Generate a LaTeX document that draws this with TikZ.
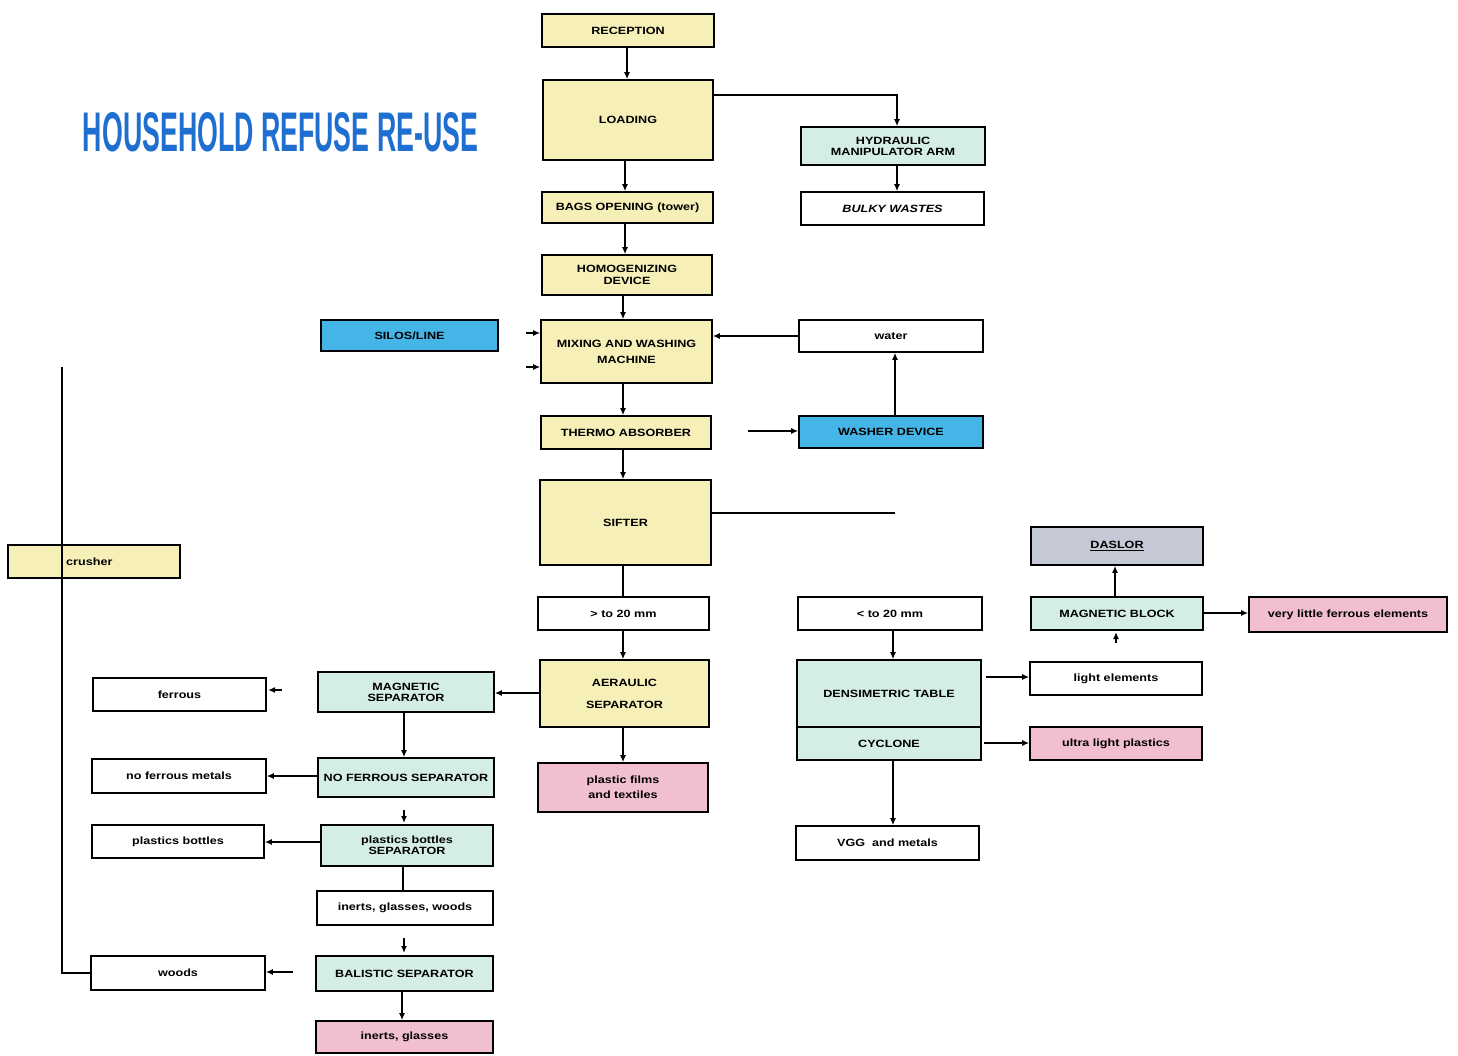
\documentclass[tikz,border=0pt]{standalone}
\usepackage{fontspec}
\usepackage{graphicx}
\setmainfont{Liberation Sans}
\newfontfamily\boxfont[FakeStretch=1.2]{Liberation Sans}
\usetikzlibrary{arrows.meta}
\definecolor{cyel}{HTML}{F6F0B8}
\definecolor{cteal}{HTML}{D4EEE4}
\definecolor{cblue}{HTML}{45B5E8}
\definecolor{cpink}{HTML}{F2BFD2}
\definecolor{cgrey}{HTML}{C5C9D6}
\definecolor{ctitle}{HTML}{1E6FD0}
\begin{document}
\begin{tikzpicture}[x=1pt,y=-1pt,
  box/.style={draw=black, line width=1.6pt, inner sep=1pt, align=center,
    font=\boxfont\fontsize{10.5}{16}\selectfont\bfseries},
  yel/.style={box, fill=cyel},
  teal/.style={box, fill=cteal},
  blu/.style={box, fill=cblue},
  pnk/.style={box, fill=cpink},
  wht/.style={box, fill=white},
  conn/.style={line width=1.5pt, draw=black},
  arr/.style={conn, -{Latex[length=7pt,width=6pt]}}
]
\fill[white] (0,0) rectangle (1458,1055);
\useasboundingbox (0,0) rectangle (1458,1055);

% title
\node[anchor=center, inner sep=0pt, text=ctitle] (title) at (280.5,132.5)
  {\resizebox{395pt}{39pt}{\bfseries HOUSEHOLD REFUSE RE-USE}};

% central column
\node[yel, minimum width=172, minimum height=33] (rec) at (628,30.5) {RECEPTION};
\node[yel, minimum width=170, minimum height=80] (load) at (628,120) {LOADING};
\node[teal, minimum width=184, minimum height=38] (hyd) at (893,146) {HYDRAULIC\\[-5pt]MANIPULATOR ARM};
\node[wht, minimum width=183, minimum height=33] (bulky) at (892.5,208.5) {\itshape BULKY WASTES};
\node[yel, minimum width=171, minimum height=31] (bags) at (627.5,207.5) {BAGS OPENING (tower)};
\node[yel, minimum width=170, minimum height=40] (homog) at (627,275) {HOMOGENIZING\\[-4pt]DEVICE};
\node[blu, minimum width=177, minimum height=31] (silos) at (409.5,335.5) {SILOS/LINE};
\node[yel, minimum width=171, minimum height=63] (mix) at (626.5,351.5) {MIXING AND WASHING\\MACHINE};
\node[wht, minimum width=184, minimum height=32] (water) at (891,336) {water};
\node[yel, minimum width=170, minimum height=33] (thermo) at (626,432.5) {THERMO ABSORBER};
\node[blu, minimum width=184, minimum height=32] (washer) at (891,432) {WASHER DEVICE};
\node[yel, minimum width=171, minimum height=85] (sifter) at (625.5,522.5) {SIFTER};
\node[wht, minimum width=171, minimum height=33] (gt) at (623.5,613.5) {> to 20 mm};
\node[wht, minimum width=184, minimum height=33] (lt) at (890,613.5) {< to 20 mm};
\node[yel, minimum width=169, minimum height=67] (aer) at (624.5,693.5) {AERAULIC\\[6pt]SEPARATOR};
\node[pnk, minimum width=170, minimum height=49] (films) at (623,787.5) {plastic films\\[-1pt]and textiles};

% left column
\node[teal, minimum width=176, minimum height=40] (magsep) at (406,692) {MAGNETIC\\[-5pt]SEPARATOR};
\node[wht, minimum width=173, minimum height=33] (ferrous) at (179.5,694.5) {ferrous};
\node[teal, minimum width=176, minimum height=39] (nfsep) at (406,777.5) {NO FERROUS SEPARATOR};
\node[wht, minimum width=174, minimum height=34] (nfm) at (179,776) {no ferrous metals};
\node[teal, minimum width=172, minimum height=41] (pbsep) at (407,845.5) {plastics bottles\\[-5pt]SEPARATOR};
\node[wht, minimum width=172, minimum height=33] (pb) at (178,841.5) {plastics bottles};
\node[wht, minimum width=176, minimum height=34] (igw) at (405,908) {inerts, glasses, woods};
\node[teal, minimum width=177, minimum height=35] (bal) at (404.5,973.5) {BALISTIC SEPARATOR};
\node[wht, minimum width=174, minimum height=34] (woods) at (178,973) {woods};
\node[pnk, minimum width=177, minimum height=32] (ig) at (404.5,1037) {inerts, glasses};
\node[yel, minimum width=172, minimum height=33] (crush) at (94,561.5) {};
\node[anchor=west, inner sep=0pt, font=\boxfont\fontsize{10.5}{12}\selectfont\bfseries] (crushtxt) at (66,561.5) {crusher};

% right column
\node[teal, minimum width=184, minimum height=67] (dens) at (889,693.5) {DENSIMETRIC TABLE};
\node[teal, minimum width=184, minimum height=33] (cyc) at (889,743.5) {CYCLONE};
\node[wht, minimum width=183, minimum height=34] (vgg) at (887.5,843) {VGG\ \ and metals};
\node[wht, minimum width=172, minimum height=33] (light) at (1116,678.5) {light elements};
\node[pnk, minimum width=172, minimum height=33] (ultra) at (1116,743.5) {ultra light plastics};
\node[teal, minimum width=172, minimum height=33] (magblk) at (1117,613.5) {MAGNETIC BLOCK};
\node[pnk, minimum width=198, minimum height=35] (vlf) at (1348,614.5) {very little ferrous elements};
\node[box, fill=cgrey, minimum width=172, minimum height=38] (dasl) at (1117,546) {\underline{DASLOR}};

% free coordinates
\coordinate (sifterend) at (895,513);
\coordinate (mixin1s) at (526,333);
\coordinate (mixin2s) at (526,367);
\coordinate (washs) at (748,431);
\coordinate (ferrs) at (282,690);
\coordinate (ferre) at (268,690);
\coordinate (pbtip1) at (404,810);
\coordinate (pbtip2) at (404,823);
\coordinate (baltip1) at (404,938);
\coordinate (baltip2) at (404,953);
\coordinate (mbtip1) at (1116,643);
\coordinate (mbtip2) at (1116,632);
\coordinate (crushtop) at (62,367);
\coordinate (woodcorner) at (62,973);

% connectors
\draw[arr] (rec.south -| 627,0) -- (load.north -| 627,0);
\draw[arr] (load.east |- 0,95) -| (hyd.north -| 897,0);
\draw[arr] (load.south -| 625,0) -- (bags.north -| 625,0);
\draw[arr] (hyd.south -| 897,0) -- (bulky.north -| 897,0);
\draw[arr] (bags.south -| 625,0) -- (homog.north -| 625,0);
\draw[arr] (homog.south -| 623,0) -- (mix.north -| 623,0);
\draw[arr] (water.west) -- (mix.east |- water.west);
\draw[arr] (washer.north -| 895,0) -- (water.south -| 895,0);
\draw[arr] (mixin1s) -- (mix.west |- mixin1s);
\draw[arr] (mixin2s) -- (mix.west |- mixin2s);
\draw[arr] (mix.south -| 623,0) -- (thermo.north -| 623,0);
\draw[arr] (washs) -- (washer.west |- washs);
\draw[arr] (thermo.south -| 623,0) -- (sifter.north -| 623,0);
\draw[conn] (sifter.east |- sifterend) -- (sifterend);
\draw[conn] (sifter.south -| 623,0) -- (gt.north -| 623,0);
\draw[arr] (gt.south -| 623,0) -- (aer.north -| 623,0);
\draw[arr] (lt.south -| 893,0) -- (dens.north -| 893,0);
\draw[arr] (aer.south -| 623,0) -- (films.north -| 623,0);
\draw[arr] (aer.west |- 0,693) -- (magsep.east |- 0,693);
\draw[arr] (ferrs) -- (ferre);
\draw[arr] (magsep.south -| 404,0) -- (nfsep.north -| 404,0);
\draw[arr] (nfsep.west |- 0,776) -- (nfm.east |- 0,776);
\draw[arr] (pbtip1) -- (pbtip2);
\draw[arr] (pbsep.west |- 0,842) -- (pb.east |- 0,842);
\draw[conn] (pbsep.south -| 403,0) -- (igw.north -| 403,0);
\draw[arr] (baltip1) -- (baltip2);
\draw[arr] (bal.west |- 0,972) ++(-22,0) -- (woods.east |- 0,972);
\draw[arr] (bal.south -| 402,0) -- (ig.north -| 402,0);
\draw[conn] (woods.west) -- (woodcorner) -- (crushtop);
\draw[arr] (dens.east |- 0,677) ++(4,0) -- (light.west |- 0,677);
\draw[arr] (cyc.east |- 0,743) ++(2,0) -- (ultra.west |- 0,743);
\draw[arr] (cyc.south -| 893,0) -- (vgg.north -| 893,0);
\draw[arr] (magblk.north -| 1115,0) -- (dasl.south -| 1115,0);
\draw[arr] (mbtip1) -- (mbtip2);
\draw[arr] (magblk.east |- 0,613) -- (vlf.west |- 0,613);
\end{tikzpicture}
\end{document}
